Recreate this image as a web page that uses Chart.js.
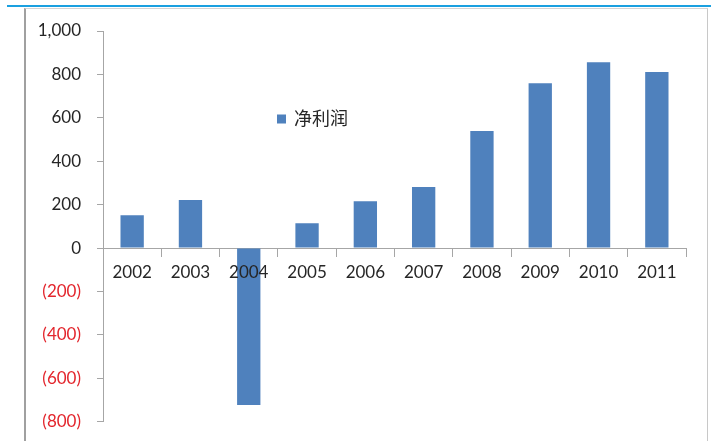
<!DOCTYPE html>
<html>
<head>
<meta charset="utf-8">
<script src="https://cdn.jsdelivr.net/npm/chart.js@4.4.1/dist/chart.umd.min.js"></script>
<style>
  html, body { margin: 0; padding: 0; background: #ffffff; }
  #wrap { position: relative; width: 717px; height: 441px; overflow: hidden; background: #fff; }
  #topline { position: absolute; left: 7px; top: 5px; width: 704px; height: 2px; background: #1aa0e0; }
  #frame { position: absolute; left: 24px; top: 8px; width: 681px; height: 440px;
           border-left: 2px solid #a0a0a0; border-top: 1px solid #d4d4d4; border-right: 1px solid #c8c8c8; }
  canvas { position: absolute; left: 0; top: 0; }
</style>
</head>
<body>
<div id="wrap">
  <div id="topline"></div>
  <div id="frame"></div>
  <canvas id="c" width="717" height="448"></canvas>
</div>
<script>
// Net profit by year
const years = ['2002', '2003', '2004', '2005', '2006', '2007', '2008', '2009', '2010', '2011'];
const netProfit = [151, 222, -723, 114, 216, 281, 539, 759, 856, 811];
const seriesName = '净利润';

// Value axis ticks and their printed labels (negatives shown in parentheses)
const yTickValues = [-800, -600, -400, -200, 0, 200, 400, 600, 800, 1000];
const yTickLabels = ['(800)', '(600)', '(400)', '(200)', '0', '200', '400', '600', '800', '1,000'];

const barColor = '#4f81bd';
const axisColor = '#a6a6a6';
const textColor = '#262626';
const negColor = '#e3262d';
const fontFamily = 'Lato, "Noto Sans CJK SC", sans-serif';

// Legend drawn inside the plot area
const insideLegend = {
  id: 'insideLegend',
  afterDraw(chart) {
    const ctx = chart.ctx;
    const area = chart.chartArea;
    const ds = chart.data.datasets[0];
    const x = area.left + 174;
    const y = area.top + 88;
    ctx.save();
    ctx.fillStyle = ds.backgroundColor;
    ctx.fillRect(x, y - 4.5, 9, 9);
    ctx.fillStyle = textColor;
    ctx.font = '18px ' + fontFamily;
    ctx.textBaseline = 'middle';
    ctx.textAlign = 'left';
    ctx.fillText(ds.label, x + 17, y);
    ctx.restore();
  }
};

new Chart(document.getElementById('c'), {
  type: 'bar',
  data: {
    labels: years,
    datasets: [{
      label: seriesName,
      data: netProfit,
      backgroundColor: barColor,
      borderWidth: 0,
      barPercentage: 0.4,
      categoryPercentage: 1.0
    }]
  },
  options: {
    responsive: false,
    animation: false,
    layout: { padding: { top: 31, right: 31, bottom: 14, left: 0 } },
    plugins: {
      legend: { display: false },
      tooltip: { enabled: false }
    },
    scales: {
      x: {
        position: { y: 0 },
        offset: true,
        grid: {
          display: true,
          offset: true,
          drawOnChartArea: false,
          drawTicks: true,
          tickLength: 8,
          tickColor: axisColor,
          color: axisColor
        },
        border: { display: true, color: axisColor, width: 1 },
        ticks: {
          z: 1,
          color: textColor,
          font: { family: fontFamily, size: 17 },
          padding: 6,
          maxRotation: 0,
          autoSkip: false
        }
      },
      y: {
        min: -800,
        max: 1000,
        afterBuildTicks(scale) {
          scale.ticks = yTickValues.map(v => ({ value: v }));
        },
        afterFit(scale) { scale.width = 103; },
        grid: {
          display: true,
          drawOnChartArea: false,
          drawTicks: true,
          tickLength: 6,
          tickColor: axisColor,
          color: axisColor
        },
        border: { display: true, color: axisColor, width: 1 },
        ticks: {
          padding: 16,
          font: { family: fontFamily, size: 17 },
          color: ctx => (ctx.tick && ctx.tick.value < 0) ? negColor : textColor,
          callback: value => {
            const i = yTickValues.indexOf(value);
            return i >= 0 ? yTickLabels[i] : '';
          }
        }
      }
    }
  },
  plugins: [insideLegend]
});
</script>
</body>
</html>
